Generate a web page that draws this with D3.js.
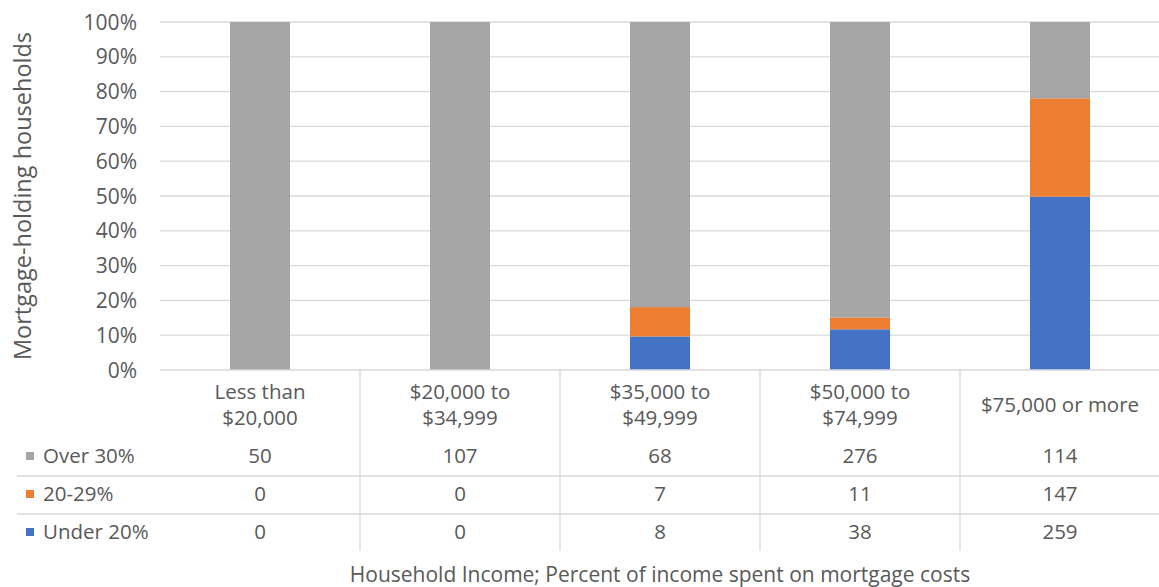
<!DOCTYPE html>
<html><head><meta charset="utf-8">
<script src="https://cdn.jsdelivr.net/npm/d3@7"></script>
<style>body{margin:0;background:#fff}svg{display:block}text{font-family:"Open Sans",sans-serif;fill:#595959}</style>
</head><body><svg id="c" width="1159" height="587"></svg>
<script>
const categories = ["Less than $20,000","$20,000 to $34,999","$35,000 to $49,999","$50,000 to $74,999","$75,000 or more"];
const categoryLines = [["Less than","$20,000"],["$20,000 to","$34,999"],["$35,000 to","$49,999"],["$50,000 to","$74,999"],["$75,000 or more"]];
const seriesNames = ["Over 30%","20-29%","Under 20%"];
const over30 = [50,107,68,276,114];
const pct20to29 = [0,0,7,11,147];
const under20 = [0,0,8,38,259];
const yTicks = [0,0.1,0.2,0.3,0.4,0.5,0.6,0.7,0.8,0.9,1.0];
const colors = {"Over 30%":"#a5a5a5","20-29%":"#ed7d31","Under 20%":"#4472c4"};

const svg = d3.select("#c");
const W = 1159;
const FS = 20.5;
const x = d3.scaleBand().domain(categories).range([160,1160]).paddingInner(0.7).paddingOuter(0.35);
const y = d3.scaleLinear().domain([0,1]).range([370,22]);

// gridlines
svg.append("g").selectAll("line").data(yTicks.slice(1)).join("line")
  .attr("x1",160).attr("x2",W).attr("y1",d=>y(d)).attr("y2",d=>y(d))
  .attr("stroke","#d9d9d9").attr("stroke-width",1.3);

// y tick labels
svg.append("g").selectAll("text").data(yTicks).join("text")
  .attr("x",137).attr("y",d=>y(d)).attr("dy","0.36em").attr("text-anchor","end")
  .attr("font-size",21).text(d3.format(".0%"));

// y title
svg.append("text").attr("transform","translate(31,196) rotate(-90)").attr("text-anchor","middle")
  .attr("font-size",23.5).text("Mortgage-holding households");

// stacked data
const rows = categories.map((c,i)=>{
  const tot = over30[i]+pct20to29[i]+under20[i];
  return {cat:c,"Under 20%":under20[i]/tot,"20-29%":pct20to29[i]/tot,"Over 30%":over30[i]/tot};
});
const stack = d3.stack().keys(["Under 20%","20-29%","Over 30%"])(rows);
svg.append("g").selectAll("g").data(stack).join("g").attr("fill",d=>colors[d.key])
  .selectAll("rect").data(d=>d).join("rect")
  .attr("x",d=>x(d.data.cat)).attr("width",x.bandwidth())
  .attr("y",d=>y(d[1])).attr("height",d=>y(d[0])-y(d[1]));

// axis line
svg.append("line").attr("x1",160).attr("x2",W).attr("y1",y(0)).attr("y2",y(0)).attr("stroke","#d9d9d9").attr("stroke-width",1.3);

// table
const step = x.step();
const colLeft = c => x(c) - x.paddingOuter()*step;
const tbl = svg.append("g");
tbl.selectAll("line.v").data(categories.slice(1)).join("line").attr("class","v")
  .attr("x1",d=>colLeft(d)).attr("x2",d=>colLeft(d)).attr("y1",370).attr("y2",551)
  .attr("stroke","#d9d9d9").attr("stroke-width",1.3);
tbl.selectAll("line.h").data([476,514]).join("line").attr("class","h")
  .attr("x1",17).attr("x2",W).attr("y1",d=>d).attr("y2",d=>d)
  .attr("stroke","#d9d9d9").attr("stroke-width",1.3);

// category headers
categories.forEach((c,i)=>{
  const lines = categoryLines[i];
  const cx = x(c)+x.bandwidth()/2;
  const t = tbl.append("text").attr("text-anchor","middle").attr("font-size",FS);
  const y0 = lines.length===1 ? 405 : 392;
  lines.forEach((l,j)=>t.append("tspan").attr("x",cx).attr("y",y0+j*26).attr("dy","0.36em").text(l));
});

// rows
const rowVals = [over30,pct20to29,under20];
const rowY = [456,494,532];
seriesNames.forEach((s,r)=>{
  tbl.append("rect").attr("x",26).attr("y",rowY[r]-4).attr("width",8).attr("height",8).attr("fill",colors[s]);
  tbl.append("text").attr("x",43).attr("y",rowY[r]).attr("dy","0.36em").attr("font-size",FS).text(s);
  categories.forEach((c,i)=>{
    tbl.append("text").attr("x",x(c)+x.bandwidth()/2).attr("y",rowY[r]).attr("dy","0.36em")
      .attr("text-anchor","middle").attr("font-size",FS).text(rowVals[r][i]);
  });
});

// x title
svg.append("text").attr("x",660).attr("y",574).attr("dy","0.36em").attr("text-anchor","middle")
  .attr("font-size",21).text("Household Income; Percent of income spent on mortgage costs");
</script></body></html>
